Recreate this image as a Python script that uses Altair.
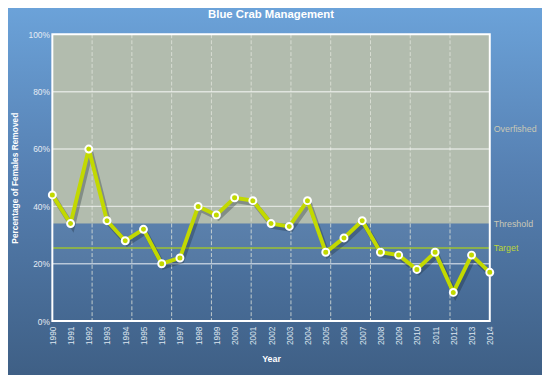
import altair as alt
import pandas as pd

# ---- data ----
years = list(range(1990, 2015))
removed = [44, 34, 60, 35, 28, 32, 20, 22, 40, 37, 43, 42, 34, 33, 42,
           24, 29, 35, 24, 23, 18, 24, 10, 23, 17]
y_ticks = [0, 20, 40, 60, 80, 100]
target = 25.5
threshold = 34
ref_labels = ["Overfished", "Threshold", "Target"]
ref_values = [67, 34, 25.5]
ref_colors = ["#c9c8b6", "#c9c8b6", "#bcd63a"]

W, H = 444, 291
PAD = {"left": 45, "top": 24, "right": 53, "bottom": 52}

df = pd.DataFrame({"year": years, "pct": removed})
# vertical dashed grid divides the plot into 11 equal columns
vgrid = pd.DataFrame({"g": [1990 + 24 * k / 11 for k in range(1, 11)]})
hgrid = pd.DataFrame({"v": [v for v in y_ticks if 0 < v < 100]})
refs = pd.DataFrame({"label": ref_labels, "v": ref_values, "c": ref_colors})

xs = alt.Scale(domain=[1990, 2014], nice=False, zero=False)
ys = alt.Scale(domain=[0, 100], nice=False)

bg = alt.Chart(alt.Data(values=[{}])).mark_rect(
    fill={"gradient": "linear", "x1": 0, "y1": 0, "x2": 0, "y2": 1,
          "stops": [{"offset": 0, "color": "#6da5dc"},
                    {"offset": 0.45, "color": "#5680b2"},
                    {"offset": 1, "color": "#3d5d82"}]}
).encode(x=alt.value(-60), x2=alt.value(W + 70), y=alt.value(-40), y2=alt.value(H + 70))

over = alt.Chart(alt.Data(values=[{}])).mark_rect(color="#b2bcae").encode(
    x=alt.datum(1990, scale=xs, axis=None), x2=alt.datum(2014),
    y=alt.datum(threshold, scale=ys, axis=None), y2=alt.datum(100))

mid = alt.Chart(alt.Data(values=[{}])).mark_rect(color="white", opacity=0.06).encode(
    x=alt.datum(1990, scale=xs, axis=None), x2=alt.datum(2014),
    y=alt.datum(20, scale=ys, axis=None), y2=alt.datum(threshold))

vlines = alt.Chart(vgrid).mark_rule(color="#e2e6dc", strokeWidth=1, strokeDash=[4, 2], opacity=0.8).encode(
    x=alt.X("g:Q", scale=xs, axis=None))

hlines = alt.Chart(hgrid).mark_rule(color="white", strokeWidth=1.5, opacity=0.6).encode(
    y=alt.Y("v:Q", scale=ys, axis=None))

tline = alt.Chart(alt.Data(values=[{}])).mark_rule(color="#9cc232", strokeWidth=1.5).encode(
    y=alt.datum(target, scale=ys, axis=None))

frame = alt.Chart(alt.Data(values=[{}])).mark_rect(filled=False, stroke="white", strokeWidth=2).encode(
    x=alt.datum(1990, scale=xs, axis=None), x2=alt.datum(2014),
    y=alt.datum(0, scale=ys, axis=None), y2=alt.datum(100))

base = alt.Chart(df)
shadow = base.mark_line(color="#14202c", opacity=0.3, strokeWidth=5, xOffset=2, yOffset=3).encode(
    x=alt.X("year:Q", scale=xs, axis=None), y=alt.Y("pct:Q", scale=ys, axis=None))

line = base.mark_line(color="#c2d900", strokeWidth=4, strokeJoin="miter").encode(
    x=alt.X("year:Q", scale=xs,
            axis=alt.Axis(values=years, format="d", labelAngle=270, labelAlign="right",
                          labelBaseline="middle", ticks=False, domain=False, grid=False,
                          labelPadding=5, labelFontSize=8.5, labelColor="#dde5ef",
                          labelFont="Liberation Sans", title="Year", titleFontSize=9,
                          titleFont="Liberation Sans", titleFontWeight="bold",
                          titleColor="white", titlePadding=10, labelFlush=False,
                          labelOverlap=False, labelBound=False, zindex=2)),
    y=alt.Y("pct:Q", scale=ys,
            axis=alt.Axis(values=y_ticks, labelExpr="datum.value + '%'", ticks=False,
                          domain=False, grid=False, labelPadding=3, labelFontSize=8.5,
                          labelColor="#e6ecf4", labelFont="Liberation Sans",
                          title="Percentage of Females Removed", titleFontSize=8.5,
                          titleFont="Liberation Sans", titleFontWeight="bold",
                          titleColor="white", titlePadding=9, labelOverlap=False,
                          zindex=2)))

points = base.mark_point(filled=True, fill="#c2d900", stroke="white", strokeWidth=2,
                         size=50, opacity=1, shape="circle").encode(
    x=alt.X("year:Q", scale=xs, axis=None), y=alt.Y("pct:Q", scale=ys, axis=None))

labels = alt.Chart(refs).mark_text(align="left", baseline="middle", dx=4, fontSize=9,
                                   font="Liberation Sans").encode(
    x=alt.datum(2014, scale=xs, axis=None), y=alt.Y("v:Q", scale=ys, axis=None),
    text="label:N", color=alt.Color("c:N", scale=None))

chart = alt.layer(bg, over, mid, vlines, hlines, tline, frame, shadow, line, points, labels).properties(
    width=W, height=H,
    title=alt.TitleParams("Blue Crab Management", fontSize=11.5, font="Liberation Sans",
                          fontWeight="bold", color="white", anchor="middle", offset=8,
                          dy=34, zindex=2),
    autosize=alt.AutoSizeParams(type="none"),
    padding=PAD,
    background="#4d7099",
).resolve_axis(x="independent", y="independent").configure_view(stroke=None)

chart.save("out.html", embed_options={"renderer": "svg", "actions": False})
